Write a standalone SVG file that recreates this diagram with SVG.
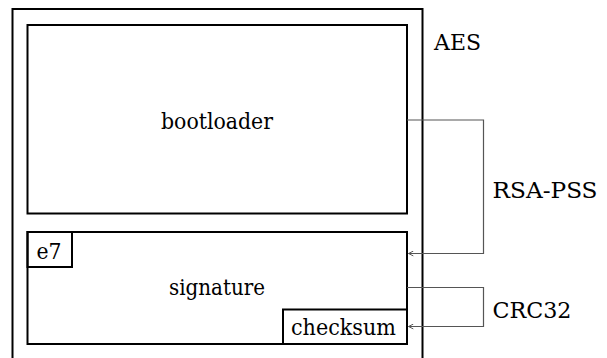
<svg xmlns="http://www.w3.org/2000/svg" width="607" height="358" viewBox="0 0 607 358">
  <style>
    .box { fill: none; stroke: #000; stroke-width: 2; }
    .lbl { font-family: 'DejaVu Serif Condensed', 'DejaVu Serif', serif; font-stretch: condensed; font-size: 23px; fill: #000; }
    .mid { text-anchor: middle; }
    .wire { fill: none; stroke: #555; stroke-width: 1.2; }
  </style>
  <defs>
    <marker id="open-arrow" viewBox="0 0 10 10" refX="9" refY="5" markerWidth="6" markerHeight="6" markerUnits="userSpaceOnUse" orient="auto">
      <path d="M1,1 L9,5 L1,9" fill="none" stroke="#555" stroke-width="1.6"/>
    </marker>
  </defs>

  <!-- encrypted image container -->
  <g id="image">
    <rect class="box" x="12.5" y="9" width="410" height="360"/>
    <text class="lbl" x="434" y="49.5" textLength="47" lengthAdjust="spacingAndGlyphs">AES</text>
  </g>

  <g id="bootloader">
    <rect class="box" x="27.5" y="25" width="379.5" height="188.5"/>
    <text class="lbl mid" x="217" y="128.5" textLength="112" lengthAdjust="spacingAndGlyphs">bootloader</text>
  </g>

  <g id="signature">
    <rect class="box" x="27.5" y="232" width="379.5" height="112"/>
    <text class="lbl mid" x="217" y="294.5" textLength="96" lengthAdjust="spacingAndGlyphs">signature</text>
  </g>

  <g id="e7">
    <rect class="box" x="27.5" y="232" width="44.5" height="35"/>
    <text class="lbl" x="36.5" y="258.5" textLength="25" lengthAdjust="spacingAndGlyphs">e7</text>
  </g>

  <g id="checksum">
    <rect class="box" x="283" y="309.5" width="124" height="34.5"/>
    <text class="lbl" x="291" y="335" textLength="105" lengthAdjust="spacingAndGlyphs">checksum</text>
  </g>

  <g id="connectors">
    <path class="wire" d="M407,120 H483.5 V253.5 H408.5" marker-end="url(#open-arrow)"/>
    <text class="lbl" x="492.5" y="197.5" textLength="105" lengthAdjust="spacingAndGlyphs">RSA-PSS</text>
    <path class="wire" d="M407,287.5 H483.5 V326.5 H408.5" marker-end="url(#open-arrow)"/>
    <text class="lbl" x="492.5" y="318" textLength="79" lengthAdjust="spacingAndGlyphs">CRC32</text>
  </g>
</svg>
